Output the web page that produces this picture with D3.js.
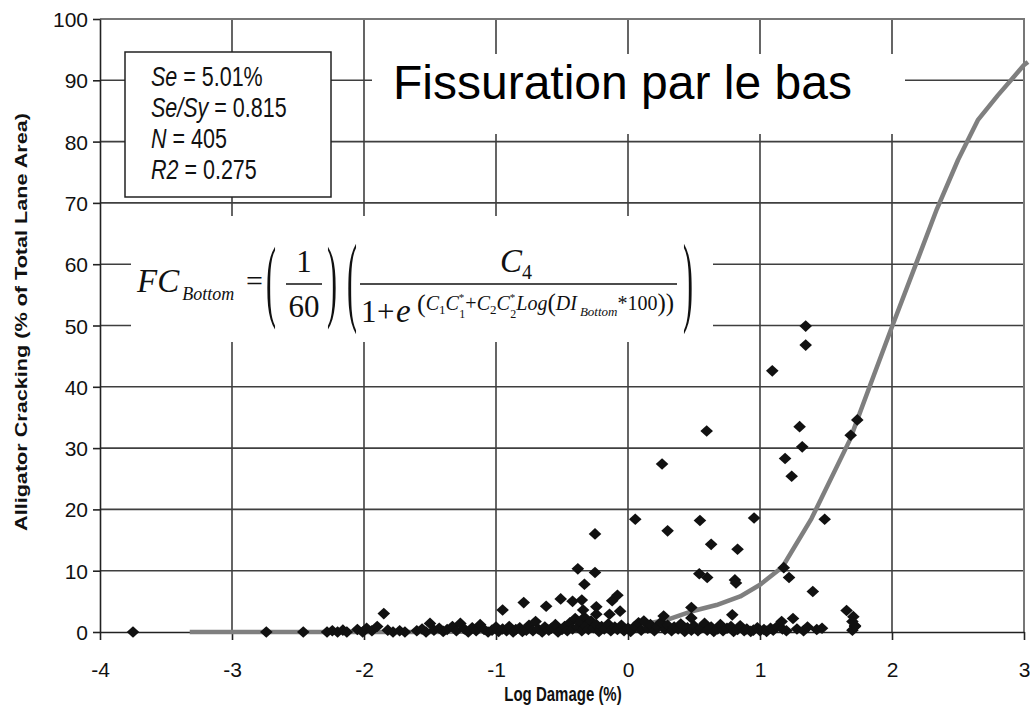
<!DOCTYPE html>
<html>
<head>
<meta charset="utf-8">
<script src="https://cdn.jsdelivr.net/npm/d3@7"></script>
<style>
  body { margin: 0; background: #fff; }
  svg { display: block; }
  text { font-family: "Liberation Sans", Arial, sans-serif; }
  .serif { font-family: "Liberation Serif", "Times New Roman", serif; }
</style>
</head>
<body>
<script>
//============================================================
// Data
var xTicks = [-4, -3, -2, -1, 0, 1, 2, 3];
var yTicks = [0, 10, 20, 30, 40, 50, 60, 70, 80, 90, 100];

// fitted model curve (grey line)
var curveX = [-3.32, -2.5, -1.5, -0.5, 0, 0.3, 0.47, 0.67, 0.85, 1.0, 1.17, 1.39, 1.68, 1.83, 2.0, 2.19, 2.34, 2.5, 2.65, 2.8, 3.0, 3.03];
var curveY = [0, 0, 0, 0.2, 0.8, 2.0, 3.3, 4.4, 5.8, 7.7, 10.6, 18.5, 31.3, 40, 49.8, 60.5, 69, 77, 83.5, 87.5, 92.5, 93];

// measured points that stand above the band
var highX = [-1.85, -0.95, -0.79, -0.62, -0.51, -0.42, -0.38, -0.25, -0.25, -0.33, -0.35, -0.34, -0.24, -0.24, -0.14, -0.12, -0.08, -0.06,
  0.055, 0.258, 0.30, 0.545, 0.596, 0.63, 0.54, 0.60, 0.27, 0.48, 0.48, 0.79, 0.83, 0.81, 0.818, 0.955,
  1.093, 1.346, 1.346, 1.30, 1.32, 1.19, 1.24, 1.737, 1.687, 1.49, 1.18, 1.22, 1.40, 1.164, 1.25, 1.656, 1.707, 1.72, 1.70];
var highY = [3.0, 3.6, 4.8, 4.2, 5.4, 5.0, 10.3, 16.0, 9.7, 7.8, 5.2, 3.6, 4.1, 2.9, 2.9, 5.1, 6.0, 3.4,
  18.4, 27.4, 16.5, 18.2, 32.8, 14.3, 9.5, 8.9, 2.6, 4.0, 2.3, 2.8, 13.5, 8.5, 8.0, 18.6,
  42.6, 49.9, 46.8, 33.5, 30.2, 28.3, 25.4, 34.6, 32.1, 18.4, 10.5, 8.9, 6.6, 1.7, 2.2, 3.5, 2.5, 0.9, 1.7];

// measured points in the band near zero
var lowX = [-3.75, -2.74, -2.46, -2.28, -2.24, -2.2, -2.16, -2.13, -2.05, -2.01, -1.98, -1.94, -1.9, -1.82, -1.78, -1.73, -1.69,
  -1.6, -1.56, -1.53, -1.5, -1.47, -1.43, -1.4, -1.37, -1.33, -1.3, -1.27, -1.24, -1.21, -1.18, -1.15, -1.12, -1.09, -1.06, -1.03,
  -1.0, -0.98, -0.95, -0.92, -0.9, -0.87, -0.85, -0.82, -0.8, -0.77, -0.75, -0.72, -0.7, -0.68, -0.65, -0.63, -0.6, -0.58, -0.55,
  -0.53, -0.5, -0.48, -0.46, -0.44, -0.42, -0.4, -0.38, -0.36, -0.35, -0.33, -0.32, -0.3, -0.28, -0.26, -0.24, -0.22, -0.2, -0.18,
  -0.15, -0.13, -0.1, -0.08, -0.05, -0.03, 0, 0.02, 0.05, 0.08, 0.1, 0.12, 0.15, 0.17, 0.2, 0.22, 0.25, 0.28, 0.3, 0.33, 0.35,
  0.38, 0.4, 0.43, 0.45, 0.48, 0.5, 0.53, 0.55, 0.58, 0.6, 0.63, 0.65, 0.68, 0.7, 0.72, 0.75, 0.78, 0.8, 0.83, 0.85, 0.88, 0.9,
  0.93, 0.95, 0.98, 1.0, 1.03, 1.05, 1.08, 1.1, 1.13, 1.17, 1.2, 1.28, 1.33, 1.36, 1.43, 1.47, 1.7, 1.72];
var lowY = [0, 0, 0, 0, 0.2, 0, 0.3, 0, 0.4, 0, 0.6, 0.2, 0.9, 0.3, 0, 0.2, 0,
  0.2, 0.5, 0, 1.4, 0.3, 0.6, 0.1, 0.4, 0.9, 0.2, 1.4, 0.5, 0, 0.7, 0.2, 1.2, 0.4, 0, 0.3,
  0.8, 0.1, 0.5, 0.2, 0.9, 0, 0.4, 0.7, 0.1, 0.3, 1.1, 0.2, 1.7, 0.5, 0, 0.8, 0.3, 0.6, 1.2,
  0, 0.4, 0.9, 0.2, 1.5, 0.5, 2.2, 0.8, 1.6, 0.2, 2.4, 1.0, 0.4, 1.8, 0.7, 1.2, 0.1, 0.9, 0.5,
  1.3, 0.2, 0.8, 0.4, 1.1, 0.2, 0.6, 0.1, 0.9, 1.5, 0.3, 1.8, 0.6, 1.2, 0.2, 0.9, 1.6, 0.4, 1.1, 0.2, 0.8,
  0.5, 1.3, 0.1, 0.7, 0.3, 1.0, 0.2, 0.6, 1.4, 0.3, 0.8, 0.1, 0.5, 1.2, 0.2, 0.6, 0.9, 0.1, 0.4, 1.0, 0.2, 0.5,
  0.1, 0.3, 0.7, 0.2, 0.4, 0.1, 0.6, 0.3, 0.9, 0.5, 0.2, 0.5, 0.2, 0.8, 0.4, 0.6, 0.3, 1.0];

var statNames = ["Se", "Se/Sy", "N", "R2"];
var statValues = [" = 5.01%", " = 0.815", " = 405", " = 0.275"];

//============================================================
// Set up SVG
var W = 1030, H = 724;
var svg = d3.select("body").append("svg")
  .attr("width", W)
  .attr("height", H);

var x = d3.scaleLinear().domain([-4, 3]).range([100, 1024]);
var y = d3.scaleLinear().domain([0, 100]).range([632, 19]);

var gridColor = "#3f3f3f";

// gridlines
svg.append("g").selectAll("line")
  .data(yTicks.filter(function (d) { return d > 0 && d < 100; }))
  .enter().append("line")
  .attr("x1", x(-4)).attr("x2", x(3))
  .attr("y1", function (d) { return y(d); }).attr("y2", function (d) { return y(d); })
  .attr("stroke", gridColor).attr("stroke-width", 1.6);

svg.append("g").selectAll("line")
  .data(xTicks.filter(function (d) { return d > -4 && d < 3; }))
  .enter().append("line")
  .attr("x1", function (d) { return x(d); }).attr("x2", function (d) { return x(d); })
  .attr("y1", y(100)).attr("y2", y(0))
  .attr("stroke", gridColor).attr("stroke-width", 1.6);

// top and right frame
svg.append("path")
  .attr("d", "M" + x(-4) + "," + y(100) + "H" + x(3) + "V" + y(0))
  .attr("fill", "none").attr("stroke", "#777").attr("stroke-width", 2);

// white patches behind the annotations
svg.append("rect").attr("x", 372).attr("y", 54).attr("width", 533).attr("height", 80).attr("fill", "#fff");
svg.append("rect").attr("x", 131).attr("y", 216).attr("width", 582).attr("height", 126).attr("fill", "#fff");
svg.append("rect").attr("x", 125).attr("y", 52).attr("width", 206).attr("height", 145)
  .attr("fill", "#fff").attr("stroke", "#222").attr("stroke-width", 1.5);

//============================================================
// axes
var yAxis = svg.append("g")
  .attr("transform", "translate(" + x(-4) + ",0)")
  .call(d3.axisLeft(y).tickValues(yTicks).tickSize(7).tickSizeOuter(0).tickPadding(5));
var xAxis = svg.append("g")
  .attr("transform", "translate(0," + y(0) + ")")
  .call(d3.axisBottom(x).tickValues(xTicks).tickSize(8).tickSizeOuter(0).tickPadding(37).tickFormat(d3.format("d")));

[yAxis, xAxis].forEach(function (a) {
  a.select(".domain").attr("stroke", "#222").attr("stroke-width", 1.6);
  a.selectAll(".tick line").attr("stroke", "#222").attr("stroke-width", 1.6);
  a.selectAll(".tick text")
    .attr("fill", "#111")
    .style("font-size", "21px")
    .style("font-family", "'Liberation Sans', Arial, sans-serif");
});
xAxis.selectAll(".tick text").attr("dy", "0");
yAxis.selectAll(".tick text").attr("dy", "0.36em");
// d3 puts a minus sign; the picture uses a hyphen
xAxis.selectAll(".tick text").text(function (d) { return String(d); });

//============================================================
// model curve
var curveData = curveX.map(function (v, i) { return [v, curveY[i]]; });
svg.append("path")
  .datum(curveData)
  .attr("d", d3.line().x(function (d) { return x(d[0]); }).y(function (d) { return y(d[1]); }))
  .attr("fill", "none")
  .attr("stroke", "#7f7f7f")
  .attr("stroke-width", 4.5)
  .attr("stroke-linejoin", "round");

// scatter points (diamonds)
var pts = lowX.map(function (v, i) { return [v, lowY[i]]; })
  .concat(highX.map(function (v, i) { return [v, highY[i]]; }));
svg.append("g").selectAll("path")
  .data(pts)
  .enter().append("path")
  .attr("d", "M0,-5.8L6.3,0L0,5.8L-6.3,0Z")
  .attr("transform", function (d) { return "translate(" + x(d[0]) + "," + y(d[1]) + ")"; })
  .attr("fill", "#111");

//============================================================
// axis titles
svg.append("text")
  .attr("transform", "translate(27,322) rotate(-90)")
  .attr("text-anchor", "middle")
  .attr("textLength", 418)
  .attr("lengthAdjust", "spacingAndGlyphs")
  .style("font-size", "16px")
  .style("font-weight", "bold")
  .attr("fill", "#111")
  .text("Alligator Cracking (% of Total Lane Area)");

svg.append("g")
  .attr("transform", "translate(563,701) scale(1,1.3)")
  .append("text")
  .attr("text-anchor", "middle")
  .style("font-size", "15px")
  .style("font-weight", "bold")
  .attr("fill", "#111")
  .text("Log Damage (%)");

// stats box
statNames.forEach(function (n, i) {
  var t = svg.append("g")
    .attr("transform", "translate(151," + (86 + i * 31) + ") scale(1,1.3)")
    .append("text")
    .style("font-size", "21.5px")
    .attr("fill", "#111");
  t.append("tspan").style("font-style", "italic").text(n);
  t.append("tspan").text(statValues[i]);
});

// title
svg.append("text")
  .attr("x", 393).attr("y", 99)
  .style("font-size", "48px")
  .attr("fill", "#000")
  .text("Fissuration par le bas");

//============================================================
// formula
var f = svg.append("g").attr("class", "serif").attr("fill", "#111");
var fc = f.append("text").attr("class", "serif").attr("x", 137).attr("y", 292).style("font-size", "33px").style("font-style", "italic");
fc.append("tspan").text("FC");
fc.append("tspan").attr("dx", 3).attr("dy", 8).style("font-size", "18px").text("Bottom");
f.append("text").attr("class", "serif").attr("x", 246).attr("y", 291).style("font-size", "30px").text("=");

function bigParen(px, py, ch, sy) {
  f.append("g").attr("transform", "translate(" + px + "," + py + ") scale(1," + sy + ")")
    .append("text").attr("class", "serif").style("font-size", "30px").text(ch);
}
bigParen(266, 310, "(", 3.0);
bigParen(327, 310, ")", 3.0);
bigParen(347, 313, "(", 3.3);
bigParen(683, 313, ")", 3.3);

f.append("text").attr("class", "serif").attr("x", 304).attr("y", 272).attr("text-anchor", "middle").style("font-size", "31px").text("1");
f.append("line").attr("x1", 286).attr("x2", 322).attr("y1", 284).attr("y2", 284).attr("stroke", "#111").attr("stroke-width", 1.5);
f.append("text").attr("class", "serif").attr("x", 304).attr("y", 317).attr("text-anchor", "middle").style("font-size", "31px").text("60");

var c4 = f.append("text").attr("class", "serif").attr("x", 500).attr("y", 272).style("font-size", "33px");
c4.append("tspan").style("font-style", "italic").text("C");
c4.append("tspan").attr("dy", 7).style("font-size", "20px").text("4");
f.append("line").attr("x1", 360).attr("x2", 677).attr("y1", 284).attr("y2", 284).attr("stroke", "#111").attr("stroke-width", 1.5);

f.append("text").attr("class", "serif").attr("x", 361).attr("y", 322).style("font-size", "31px").text("1");
f.append("text").attr("class", "serif").attr("x", 377).attr("y", 322).style("font-size", "31px").text("+");
f.append("text").attr("class", "serif").attr("x", 396).attr("y", 322).style("font-size", "33px").style("font-style", "italic").text("e");

// exponent: starred constants get the star above and the index below
var ex = f.append("text").attr("class", "serif").attr("x", 417).attr("y", 310).style("font-size", "20px");
ex.append("tspan").style("font-size", "26px").attr("dy", 2).text("(");
ex.append("tspan").attr("dy", -2).style("font-style", "italic").text("C");
ex.append("tspan").attr("dy", 4).style("font-size", "13px").text("1");
ex.append("tspan").attr("dy", -4).style("font-style", "italic").text("C");
ex.append("tspan").attr("dy", -9).style("font-size", "11px").text("*");
ex.append("tspan").attr("dx", -5).attr("dy", 17).style("font-size", "12px").text("1");
ex.append("tspan").attr("dy", -8).text("+");
ex.append("tspan").style("font-style", "italic").text("C");
ex.append("tspan").attr("dy", 4).style("font-size", "13px").text("2");
ex.append("tspan").attr("dy", -4).style("font-style", "italic").text("C");
ex.append("tspan").attr("dy", -9).style("font-size", "11px").text("*");
ex.append("tspan").attr("dx", -5).attr("dy", 17).style("font-size", "12px").text("2");
ex.append("tspan").attr("dy", -8).style("font-style", "italic").text("Log");
ex.append("tspan").attr("dy", 1).style("font-size", "25px").text("(");
ex.append("tspan").attr("dy", -1).style("font-style", "italic").text("DI");
ex.append("tspan").attr("dx", 3).attr("dy", 6).style("font-size", "13px").style("font-style", "italic").text("Bottom");
ex.append("tspan").attr("dy", -6).text("*100");
ex.append("tspan").attr("dy", 1).style("font-size", "25px").text("))");
</script>
</body>
</html>
